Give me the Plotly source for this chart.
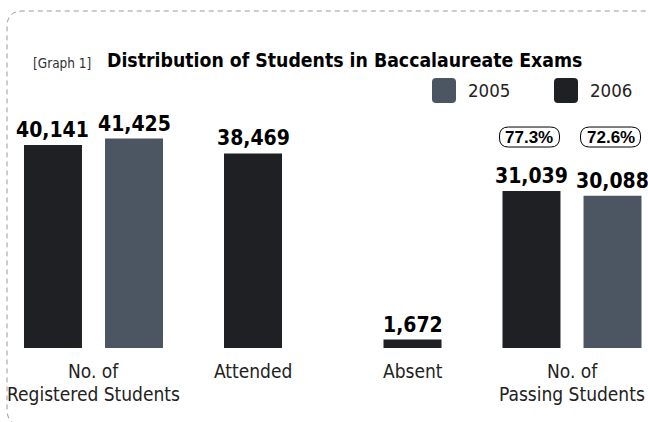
import plotly.graph_objects as go

# ---------------- data ----------------
category_lines = [["No. of", "Registered Students"], ["Attended"], ["Absent"], ["No. of", "Passing Students"]]
values_2006 = [40141, 38469, 1672, 31039]
values_2005 = [41425, None, None, 30088]
series_names = ["2005", "2006"]
title_tag = "[Graph 1]"
title_text = "Distribution of Students in Baccalaureate Exams"

# ---------------- style ----------------
C2006 = "#1f2023"
C2005 = "#4b5662"
NARROW = "DejaVu Sans Condensed, Liberation Sans Narrow, Arial Narrow, sans-serif"
SANS = "Liberation Sans, Arial, sans-serif"
W, H = 648, 422
PAIR = 0.254
BARW = 0.3636

x2006, x2005, y2005 = [], [], []
for i, (a, b) in enumerate(zip(values_2006, values_2005)):
    if b is None:
        x2006.append(i)
    else:
        x2006.append(i - PAIR)
        x2005.append(i + PAIR)
        y2005.append(b)

fig = go.Figure()
fig.add_trace(go.Bar(x=x2006, y=values_2006, width=BARW, marker=dict(color=C2006, line=dict(width=0)),
                     name=series_names[1], showlegend=False, hoverinfo="skip"))
fig.add_trace(go.Bar(x=x2005, y=y2005, width=BARW, marker=dict(color=C2005, line=dict(width=0)),
                     name=series_names[0], showlegend=False, hoverinfo="skip"))

ann = []
# value labels
for xs, ys in ((x2006, values_2006), (x2005, y2005)):
    for x, y in zip(xs, ys):
        ann.append(dict(x=x, y=y, xref="x", yref="y", text=f"{y:,}", showarrow=False,
                        yanchor="bottom", yshift=1,
                        font=dict(family=NARROW, size=21, color="#000000", weight="bold")))

# category labels
for i, lines in enumerate(category_lines):
    for k, line in enumerate(lines):
        ann.append(dict(x=i, y=0, xref="x", yref="y", text=line, showarrow=False,
                        yanchor="top", yshift=-10 - 23 * k,
                        font=dict(family=NARROW, size=19, color="#222222")))

# pass rates (passing / registered)
reg_idx, pass_idx = 0, 3
box_y = max(values_2006[pass_idx], values_2005[pass_idx])
shapes = []


def rrect_px(cx, cy, w, h, r):
    x0, x1, y0, y1 = cx - w / 2, cx + w / 2, cy - h / 2, cy + h / 2
    return (f"M{x0 + r},{y0} L{x1 - r},{y0} Q{x1},{y0} {x1},{y0 + r} L{x1},{y1 - r} "
            f"Q{x1},{y1} {x1 - r},{y1} L{x0 + r},{y1} Q{x0},{y1} {x0},{y1 - r} "
            f"L{x0},{y0 + r} Q{x0},{y0} {x0 + r},{y0} Z")


pairs = [(x2006[pass_idx], values_2006[pass_idx] / values_2006[reg_idx]),
         (x2005[-1], values_2005[pass_idx] / values_2005[reg_idx])]
for x, rate in pairs:
    shapes.append(dict(type="path", xref="x", yref="y", xsizemode="pixel", ysizemode="pixel",
                       xanchor=x, yanchor=box_y, path=rrect_px(-2, 54, 60, 20, 9),
                       line=dict(color="#000000", width=1), fillcolor="rgba(0,0,0,0)"))
    ann.append(dict(x=x, y=box_y, xref="x", yref="y", text=f"{rate * 100:.1f}%", showarrow=False,
                    xshift=-2, yshift=54, yanchor="middle",
                    font=dict(family=SANS, size=17, color="#000000", weight="bold")))


def px(x):
    return x / W


def py(y):
    return 1 - y / H


# title
ann.append(dict(x=px(31), y=py(63), xref="paper", yref="paper", text=title_tag, showarrow=False,
                xanchor="left", yanchor="middle", font=dict(family=NARROW, size=13.5, color="#333333")))
ann.append(dict(x=px(105), y=py(60), xref="paper", yref="paper", text=title_text, showarrow=False,
                xanchor="left", yanchor="middle",
                font=dict(family=NARROW, size=19.3, color="#000000", weight="bold")))

# legend
legend_items = [(series_names[0], C2005, 432, 468), (series_names[1], C2006, 554, 590)]
for name, col, sx, tx in legend_items:
    x0, x1, y0, y1, r = px(sx), px(sx + 24), py(78), py(103), 4
    rx, ry = r / W, r / H
    path = (f"M{x0 + rx},{y0} L{x1 - rx},{y0} Q{x1},{y0} {x1},{y0 - ry} L{x1},{y1 + ry} "
            f"Q{x1},{y1} {x1 - rx},{y1} L{x0 + rx},{y1} Q{x0},{y1} {x0},{y1 + ry} "
            f"L{x0},{y0 - ry} Q{x0},{y0} {x0 + rx},{y0} Z")
    shapes.append(dict(type="path", xref="paper", yref="paper", path=path,
                       line=dict(width=0), fillcolor=col))
    ann.append(dict(x=px(tx - 2), y=py(91), xref="paper", yref="paper", text=name, showarrow=False,
                    xanchor="left", yanchor="middle", font=dict(family=NARROW, size=18.5, color="#222222")))

# dashed frame
frame = (f"M{px(24)},{py(426)} Q{px(7)},{py(426)} {px(7)},{py(409)} L{px(7)},{py(27)} "
         f"Q{px(7)},{py(11)} {px(23)},{py(11)} L{px(660)},{py(11)}")
shapes.append(dict(type="path", xref="paper", yref="paper", path=frame,
                   line=dict(color="#9a9a9a", width=1, dash="5px,4px")))

zero_px = 348
units_per_px = values_2006[0] / 203.0
fig.update_layout(
    width=W, height=H, margin=dict(l=0, r=0, t=0, b=0),
    paper_bgcolor="white", plot_bgcolor="white",
    barmode="overlay", showlegend=False,
    xaxis=dict(range=[-93.5 / 159.5, (W - 93.5) / 159.5], visible=False, fixedrange=True),
    yaxis=dict(range=[-(H - zero_px) * units_per_px, zero_px * units_per_px], visible=False, fixedrange=True),
    annotations=ann, shapes=shapes,
)
fig.write_html("out.html", config={"displayModeBar": False},
               post_script="document.body.style.margin='0px';")
